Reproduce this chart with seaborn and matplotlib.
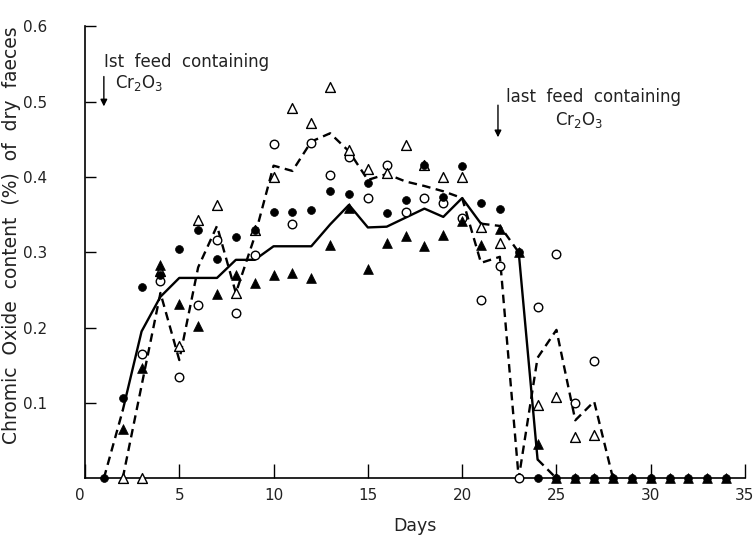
import numpy as np
import pandas as pd
import matplotlib
matplotlib.use("Agg")
import matplotlib.pyplot as plt
import seaborn as sns

nan = np.nan
days = list(range(1, 35))

# Closed circles
closed_circle = [0, 0.106, 0.254, 0.27, 0.305, 0.329, 0.291, 0.32, 0.33, 0.353,
                 0.353, 0.356, 0.382, 0.378, 0.392, 0.352, 0.37, 0.416, 0.374, 0.415,
                 0.365, 0.357, 0.30, 0, 0, 0, 0, 0, 0, 0,
                 0, 0, 0, 0]
# Closed triangles
closed_tri = [nan, 0.066, 0.147, 0.283, 0.232, 0.202, 0.245, 0.27, 0.259, 0.27,
              0.272, 0.266, 0.31, 0.359, 0.278, 0.313, 0.321, 0.309, 0.323, 0.341,
              0.31, 0.331, 0.30, 0.046, 0, 0, 0, 0, 0, 0,
              0, 0, 0, 0]
# Open circles
open_circle = [nan, nan, 0.165, 0.262, 0.135, 0.23, 0.316, 0.22, 0.297, 0.444,
               0.338, 0.445, 0.403, 0.427, 0.372, 0.416, 0.354, 0.372, 0.365, 0.345,
               0.237, 0.282, 0, 0.227, 0.298, 0.10, 0.156, nan, nan, nan,
               nan, nan, nan, nan]
# Open triangles
open_tri = [nan, 0, 0, 0.275, 0.175, 0.343, 0.363, 0.246, 0.33, 0.40,
            0.491, 0.471, 0.52, 0.436, 0.41, 0.405, 0.443, 0.416, 0.40, 0.40,
            0.334, 0.312, nan, 0.097, 0.108, 0.055, 0.057, nan, nan, nan,
            nan, nan, nan, nan]

# Line through closed symbols (mean curve)
line_s_days = list(range(1, 26))
line_s_vals = [0, 0.09, 0.195, 0.241, 0.266, 0.266, 0.266, 0.29, 0.29, 0.308,
               0.308, 0.308, 0.337, 0.363, 0.333, 0.334, 0.346, 0.358, 0.347, 0.372,
               0.338, 0.335, 0.30, 0.025, 0]
# Dashed line through open symbols (mean curve)
line_a_days = list(range(2, 29))
line_a_vals = [0, 0.123, 0.246, 0.157, 0.28, 0.335, 0.246, 0.321, 0.415, 0.408,
               0.447, 0.458, 0.434, 0.396, 0.404, 0.394, 0.388, 0.381, 0.372, 0.286,
               0.294, 0, 0.16, 0.197, 0.077, 0.102, 0]

x_ticks = [0, 5, 10, 15, 20, 25, 30, 35]
y_ticks = [0.1, 0.2, 0.3, 0.4, 0.5, 0.6]
y_tick_labels = ["0.1", "0.2", "0.3", "0.4", "0.5", "0.6"]

sns.set_theme(style="ticks")
plt.rcParams["font.family"] = ["DejaVu Sans"]

fig = plt.figure(figsize=(7.55, 5.35), dpi=100)
ax = fig.add_axes([85 / 755, 56.7 / 535, 660 / 755, 452 / 535])

df = pd.DataFrame({"day": days, "cc": closed_circle, "ct": closed_tri,
                   "oc": open_circle, "ot": open_tri})
ls = pd.DataFrame({"day": line_s_days, "v": line_s_vals})
la = pd.DataFrame({"day": line_a_days, "v": line_a_vals})

dash = (3.6, 2.3)
lw = 1.7
# solid mean line, with dashed ends as drawn
for a, b in [(1, 21), (22, 24)]:
    sns.lineplot(data=ls.iloc[a:b], x="day", y="v", ax=ax, color="black",
                 lw=lw, sort=False, estimator=None)
for a, b in [(0, 2), (20, 23), (23, 25)]:
    sns.lineplot(data=ls.iloc[a:b], x="day", y="v", ax=ax, color="black",
                 lw=lw, sort=False, estimator=None)
    ax.lines[-1].set_dashes(dash)
sns.lineplot(data=la, x="day", y="v", ax=ax, color="black", lw=lw,
             sort=False, estimator=None)
ax.lines[-1].set_dashes(dash)

kw = dict(ax=ax, clip_on=False, zorder=5, legend=False)
sns.scatterplot(data=df, x="day", y="oc", marker="o", s=38, facecolor="white",
                edgecolor="black", linewidth=1.0, **kw)
sns.scatterplot(data=df, x="day", y="ot", marker="^", s=50, facecolor="white",
                edgecolor="black", linewidth=1.0, **kw)
sns.scatterplot(data=df, x="day", y="cc", marker="o", s=32, color="black",
                edgecolor="black", linewidth=0.5, **kw)
sns.scatterplot(data=df, x="day", y="ct", marker="^", s=50, color="black",
                edgecolor="black", linewidth=0.5, **kw)
for c in ax.collections:
    c.set_clip_on(False)

ax.set_xlim(0, 35)
ax.set_ylim(0, 0.6)
ax.set_xticks(x_ticks)
ax.set_xticklabels([str(t) for t in x_ticks])
ax.set_yticks(y_ticks)
ax.set_yticklabels(y_tick_labels)
ax.tick_params(axis="both", direction="in", width=1.0, color="black",
               labelsize=11, labelcolor="#222222")
ax.tick_params(axis="y", pad=36, length=8)
ax.tick_params(axis="x", pad=7, length=10)
for lab in ax.get_yticklabels():
    lab.set_horizontalalignment("center")
ax.xaxis.get_majorticklabels()[0].set_horizontalalignment("right")
sns.despine(ax=ax)
for s in ["left", "bottom"]:
    ax.spines[s].set_linewidth(1.2)
    ax.spines[s].set_color("black")

ax.set_xlabel("Days", fontsize=12.5, color="#222222", labelpad=10)
ax.set_ylabel("Chromic  Oxide  content  (%)  of  dry  faeces", fontsize=13.5,
              color="#222222")
ax.yaxis.set_label_coords(-0.097, 0.538)

# annotations
ax.text(1.0, 0.553, "Ist  feed  containing", fontsize=12, ha="left", va="center",
        color="#222222")
ax.text(1.6, 0.525, "Cr$_2$O$_3$", fontsize=12, ha="left", va="center",
        color="#222222")
ax.annotate("", xy=(1.0, 0.49), xytext=(1.0, 0.537),
            arrowprops=dict(arrowstyle="-|>", color="black", lw=1.0,
                            mutation_scale=10))
ax.text(22.3, 0.506, "last  feed  containing", fontsize=12, ha="left",
        va="center", color="#222222")
ax.text(24.9, 0.476, "Cr$_2$O$_3$", fontsize=12, ha="left", va="center",
        color="#222222")
ax.annotate("", xy=(21.9, 0.449), xytext=(21.9, 0.499),
            arrowprops=dict(arrowstyle="-|>", color="black", lw=1.0,
                            mutation_scale=10))

fig.savefig("out.png", dpi=100)
